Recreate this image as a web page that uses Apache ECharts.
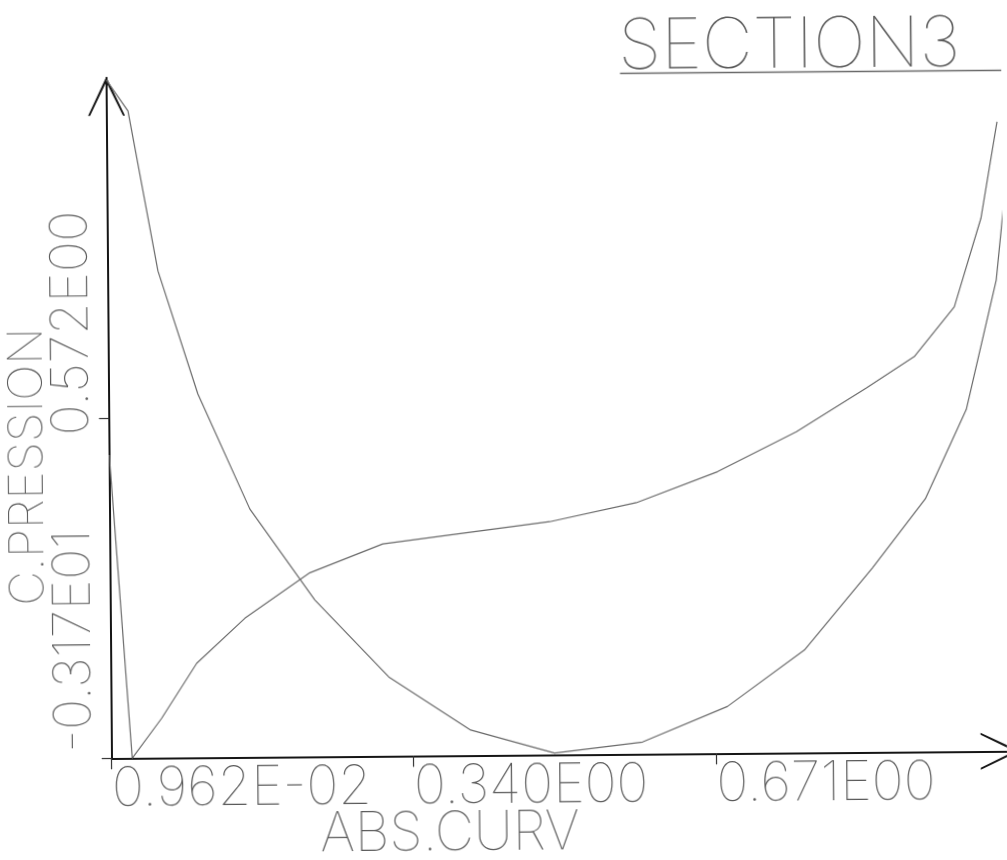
<!DOCTYPE html>
<html>
<head>
<meta charset="utf-8">
<script src="https://cdn.jsdelivr.net/npm/echarts@6/dist/echarts.min.js"></script>
<style>
html, body { margin: 0; padding: 0; background: #ffffff; overflow: hidden; }
#chart { width: 1007px; height: 860px; transform-origin: 111.7px 758.3px; transform: rotate(-0.46deg); }
</style>
</head>
<body>
<div id="chart"></div>
<script>
// ---- text ----
const titleText = 'SECTION3';
const xAxisTitle = 'ABS.CURV';
const yAxisTitle = 'C.PRESSION';

// ---- axes ----
const xMin = 0.00962;
const xMax = 1.0017;
const yMin = -3.17;
const yMax = 4.314;
const xTickValues = [0.00962, 0.340, 0.671];
const xTickLabels = ['0.962E-02', '0.340E00', '0.671E00'];
const yTickValues = [-3.17, 0.572];
const yTickLabels = ['-0.317E01', '0.572E00'];

// ---- curve A (high at leading edge, dips to minimum mid-chord) ----
const curveAX = [0.00962, 0.0331, 0.0645, 0.1071, 0.1629, 0.2332, 0.3134, 0.4025, 0.4941, 0.5904, 0.6836, 0.7683, 0.8433, 0.9018, 0.9474, 0.9813, 1.000];
const curveAY = [4.29, 3.947, 2.184, 0.828, -0.441, -1.447, -2.300, -2.891, -3.151, -3.038, -2.654, -2.040, -1.144, -0.390, 0.590, 2.012, 3.77];

// ---- curve B (sharp drop near leading edge, then rising) ----
const curveBX = [0.00962, 0.0321, 0.0646, 0.1034, 0.1565, 0.2280, 0.3080, 0.4907, 0.5856, 0.6747, 0.7614, 0.8384, 0.8910, 0.9352, 0.9651, 0.9835];
const curveBY = [0.165, -3.17, -2.735, -2.133, -1.642, -1.147, -0.837, -0.607, -0.406, -0.072, 0.361, 0.836, 1.176, 1.719, 2.691, 3.752];

const thinFont = 'Inter, "Noto Sans", Roboto, sans-serif';
const textColor = '#5a5a5a';
const axisColor = '#151515';
const curveColor = '#6a6a6a';
const chevron = 'path://M0,40 L19,0 L21,0 L40,40 L37.8,40 L20,3.6 L2.2,40 Z';

function labelIndex(values, v) {
  let best = 0, bd = Infinity;
  values.forEach((t, i) => { const d = Math.abs(t - v); if (d < bd) { bd = d; best = i; } });
  return best;
}

const chart = echarts.init(document.getElementById('chart'), null, { renderer: 'canvas' });
const option = {
  animation: false,
  backgroundColor: 'transparent',
  grid: { left: 111.7, top: 77.7, bottom: 101.7, width: 907, containLabel: false, outerBoundsMode: 'none' },
  xAxis: {
    type: 'value', min: xMin, max: xMax,
    axisLine: { show: true, onZero: false, lineStyle: { color: axisColor, width: 2 },
      symbol: ['none', chevron], symbolSize: [37, 39], symbolOffset: [0, -19.5] },
    axisTick: { show: true, customValues: xTickValues, length: 11, lineStyle: { color: '#333', width: 1.2 } },
    axisLabel: {
      show: true, customValues: xTickValues, align: 'left', verticalAlign: 'middle', margin: 31,
      fontFamily: thinFont, fontWeight: 100, fontSize: 54, lineHeight: 54, color: textColor,
      formatter: v => xTickLabels[labelIndex(xTickValues, v)]
    },
    splitLine: { show: false }
  },
  yAxis: {
    type: 'value', min: yMin, max: yMax,
    axisLine: { show: true, onZero: false, lineStyle: { color: axisColor, width: 2 },
      symbol: ['none', chevron], symbolSize: [37, 39], symbolOffset: [0, -19.5] },
    axisTick: { show: true, customValues: yTickValues, length: 10, lineStyle: { color: '#333', width: 1.2 } },
    axisLabel: {
      show: true, customValues: yTickValues, rotate: 90, align: 'left', verticalAlign: 'middle', margin: 36,
      fontFamily: thinFont, fontWeight: 100, fontSize: 52, lineHeight: 52, color: textColor,
      formatter: v => {
        const i = labelIndex(yTickValues, v);
        return '{' + (i === 0 ? 'a' : 'b') + '|' + yTickLabels[i] + '}';
      },
      rich: {
        a: { fontFamily: thinFont, fontWeight: 100, fontSize: 52, lineHeight: 52, color: textColor, padding: [0, 0, 0, 6] },
        b: { fontFamily: thinFont, fontWeight: 100, fontSize: 52, lineHeight: 52, color: textColor, padding: [0, 0, 0, -17] }
      }
    },
    splitLine: { show: false }
  },
  graphic: [
    { type: 'text', x: 624, y: 51.6, style: { text: titleText, font: '100 70px ' + thinFont, fill: textColor, align: 'left', verticalAlign: 'middle' } },
    { type: 'line', shape: { x1: 625.5, y1: 77.5, x2: 1015, y2: 77.5 }, style: { stroke: '#6a6a6a', lineWidth: 1.3 } },
    { type: 'text', x: 449.3, y: 836.7, style: { text: xAxisTitle, font: '100 54px ' + thinFont, fill: textColor, align: 'center', verticalAlign: 'middle' } },
    { type: 'text', x: 30.3, y: 466, rotation: Math.PI / 2, style: { text: yAxisTitle, font: '100 48px ' + thinFont, fill: textColor, align: 'center', verticalAlign: 'middle' } }
  ],
  series: [
    { type: 'line', name: 'A', data: curveAX.map((x, i) => [x, curveAY[i]]), showSymbol: false, symbol: 'none',
      lineStyle: { color: curveColor, width: 1.2 }, z: 3 },
    { type: 'line', name: 'B', data: curveBX.map((x, i) => [x, curveBY[i]]), showSymbol: false, symbol: 'none',
      lineStyle: { color: curveColor, width: 1.2 }, z: 3 }
  ]
};
chart.setOption(option);
</script>
</body>
</html>
